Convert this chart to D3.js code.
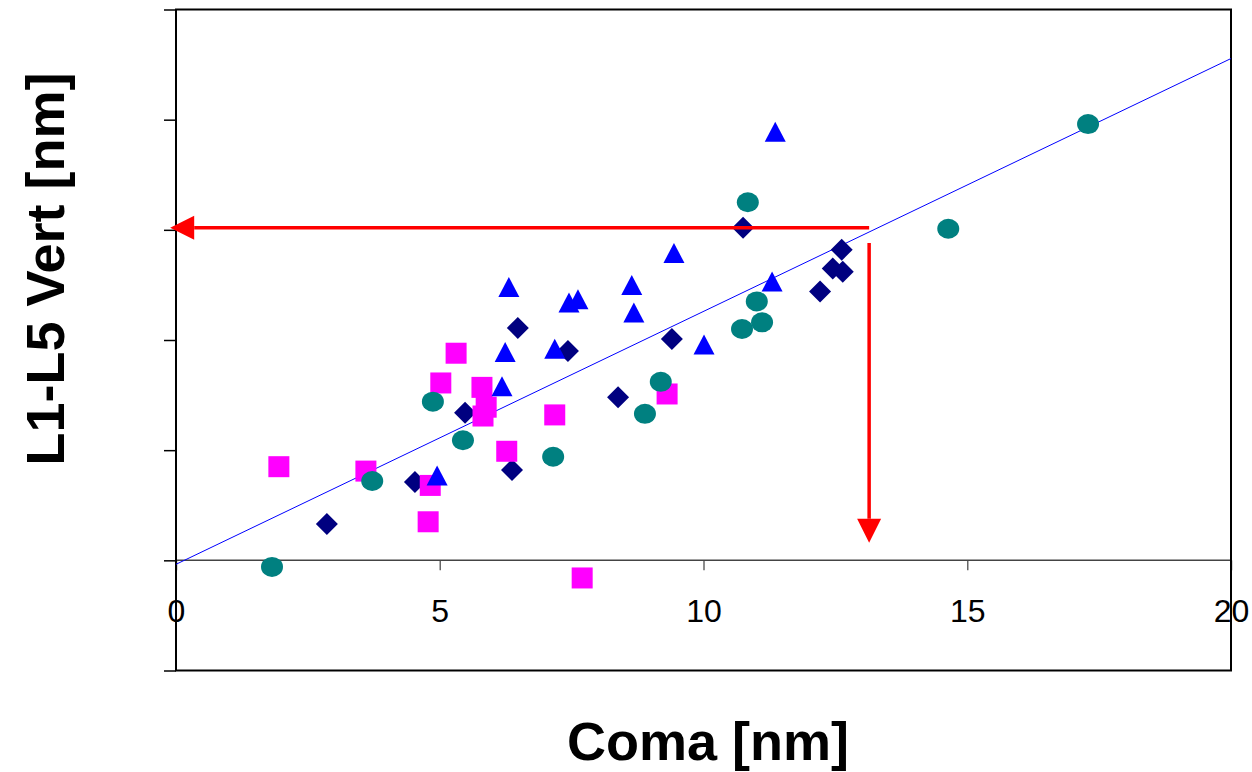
<!DOCTYPE html>
<html>
<head>
<meta charset="utf-8">
<script src="https://cdn.jsdelivr.net/npm/d3@7"></script>
<style>
  html, body { margin: 0; padding: 0; background: #fff; }
  svg { display: block; font-family: "Liberation Sans", Arial, sans-serif; }
</style>
</head>
<body>
<div id="chart"></div>
<script>
// --- Data (Coma [nm] vs L1-L5 Vert [nm]) ---
const xTicks = [0, 5, 10, 15, 20];
const yTicks = [-1, 0, 1, 2, 3, 4, 5];

const diamondX = [2.86, 4.53, 5.48, 6.37, 6.48, 7.43, 8.38, 9.40, 10.75, 12.21, 12.45, 12.64, 12.62];
const diamondY = [0.33, 0.71, 1.34, 0.82, 2.11, 1.90, 1.48, 2.01, 3.02, 2.44, 2.65, 2.62, 2.82];

const squareX = [1.95, 3.60, 4.82, 4.78, 5.02, 5.31, 5.80, 5.88, 5.82, 6.27, 7.18, 7.70, 9.31];
const squareY = [0.85, 0.81, 0.68, 0.35, 1.61, 1.88, 1.57, 1.39, 1.31, 0.99, 1.32, -0.16, 1.51];

const triangleX = [4.95, 6.18, 6.24, 6.31, 7.18, 7.45, 7.62, 8.64, 8.68, 9.44, 10.01, 11.30, 11.36];
const triangleY = [0.77, 1.58, 1.89, 2.48, 1.92, 2.34, 2.37, 2.50, 2.25, 2.79, 1.96, 2.53, 3.89];

const circleX = [1.82, 3.72, 4.87, 5.44, 7.15, 8.89, 9.19, 10.73, 11.01, 11.11, 10.84, 14.64, 17.29];
const circleY = [-0.06, 0.72, 1.44, 1.09, 0.94, 1.33, 1.62, 2.10, 2.35, 2.16, 3.25, 3.01, 3.96];

// fitted line end points
const trendX = [0, 20];
const trendY = [-0.036, 4.555];

// red reading arrows
const arrowH = { x1: 13.14, x2: -0.11, y: 3.02 };
const arrowV = { x: 13.14, y1: 2.88, y2: 0.16 };

function renderChart() {
  const width = 1252, height = 772;
  const plot = { left: 176, right: 1231, top: 9.5, bottom: 670.5 };

  const x = d3.scaleLinear().domain([0, 20]).range([plot.left, plot.right]);
  const y = d3.scaleLinear().domain([-1, 5]).range([plot.bottom, plot.top]);

  const svg = d3.select("#chart").append("svg")
    .attr("width", width)
    .attr("height", height);

  // --- Y axis ticks (no labels) ---
  svg.append("g")
    .attr("transform", `translate(${plot.left},0)`)
    .call(d3.axisLeft(y).tickValues(yTicks).tickFormat("").tickSize(12))
    .call(g => g.select(".domain").remove())
    .selectAll("line").attr("stroke", "#000").attr("stroke-width", 1.5);

  // --- X axis along y = 0 ---
  const xAxis = svg.append("g")
    .attr("transform", `translate(0,${y(0)})`)
    .call(d3.axisBottom(x).tickValues(xTicks).tickSize(10).tickPadding(29).tickFormat(d3.format("d")))
    .call(g => g.select(".domain").remove());
  xAxis.selectAll("line").attr("stroke", "#666").attr("stroke-width", 1.5);
  xAxis.selectAll("text")
    .style("font-size", "32px")
    .style("fill", "#000");

  svg.append("line")
    .attr("x1", x(0)).attr("x2", x(20))
    .attr("y1", y(0)).attr("y2", y(0))
    .attr("stroke", "#444").attr("stroke-width", 1.5);

  // --- frame ---
  svg.append("rect")
    .attr("x", plot.left).attr("y", plot.top)
    .attr("width", plot.right - plot.left)
    .attr("height", plot.bottom - plot.top)
    .attr("fill", "none").attr("stroke", "#000").attr("stroke-width", 2);

  // --- trend line ---
  svg.append("line")
    .attr("x1", x(trendX[0])).attr("y1", y(trendY[0]))
    .attr("x2", x(trendX[1])).attr("y2", y(trendY[1]))
    .attr("stroke", "#0000ff").attr("stroke-width", 1);

  const zip = (xs, ys) => xs.map((v, i) => ({ x: v, y: ys[i] }));

  // --- Diamonds ---
  svg.selectAll(".diamond").data(zip(diamondX, diamondY)).enter()
    .append("path").attr("class", "diamond")
    .attr("transform", d => `translate(${x(d.x)},${y(d.y)})`)
    .attr("d", "M0,-11L11,0L0,11L-11,0Z")
    .attr("fill", "#000080");

  // --- Squares ---
  svg.selectAll(".square").data(zip(squareX, squareY)).enter()
    .append("rect").attr("class", "square")
    .attr("x", d => x(d.x) - 10.5).attr("y", d => y(d.y) - 10.5)
    .attr("width", 21).attr("height", 21)
    .attr("fill", "#ff00ff");

  // --- Triangles ---
  svg.selectAll(".tri").data(zip(triangleX, triangleY)).enter()
    .append("path").attr("class", "tri")
    .attr("transform", d => `translate(${x(d.x)},${y(d.y)})`)
    .attr("d", "M0,-10L10.5,10L-10.5,10Z")
    .attr("fill", "#0000ff");

  // --- Circles ---
  svg.selectAll(".dot").data(zip(circleX, circleY)).enter()
    .append("ellipse").attr("class", "dot")
    .attr("cx", d => x(d.x)).attr("cy", d => y(d.y))
    .attr("rx", 11).attr("ry", 10)
    .attr("fill", "#008080");

  // --- Red arrows ---
  const red = "#ff0000";
  const headLen = 24, headHalf = 12;
  const hx2 = x(arrowH.x2), hy = y(arrowH.y);
  svg.append("line")
    .attr("x1", x(arrowH.x1)).attr("x2", hx2 + headLen)
    .attr("y1", hy).attr("y2", hy)
    .attr("stroke", red).attr("stroke-width", 3.5);
  svg.append("path")
    .attr("d", `M${hx2},${hy}L${hx2 + headLen},${hy - headHalf}L${hx2 + headLen},${hy + headHalf}Z`)
    .attr("fill", red);

  const vx = x(arrowV.x), vy2 = y(arrowV.y2);
  svg.append("line")
    .attr("x1", vx).attr("x2", vx)
    .attr("y1", y(arrowV.y1)).attr("y2", vy2 - headLen)
    .attr("stroke", red).attr("stroke-width", 3.5);
  svg.append("path")
    .attr("d", `M${vx},${vy2}L${vx - headHalf},${vy2 - headLen}L${vx + headHalf},${vy2 - headLen}Z`)
    .attr("fill", red);

  // --- Axis titles ---
  svg.append("text")
    .attr("x", 708).attr("y", 760)
    .attr("text-anchor", "middle")
    .style("font-size", "54px").style("font-weight", "bold")
    .text("Coma [nm]");

  svg.append("text")
    .attr("transform", "translate(64,269) rotate(-90)")
    .attr("text-anchor", "middle")
    .style("font-size", "54px").style("font-weight", "bold")
    .text("L1-L5 Vert [nm]");
}

renderChart();
</script>
</body>
</html>
